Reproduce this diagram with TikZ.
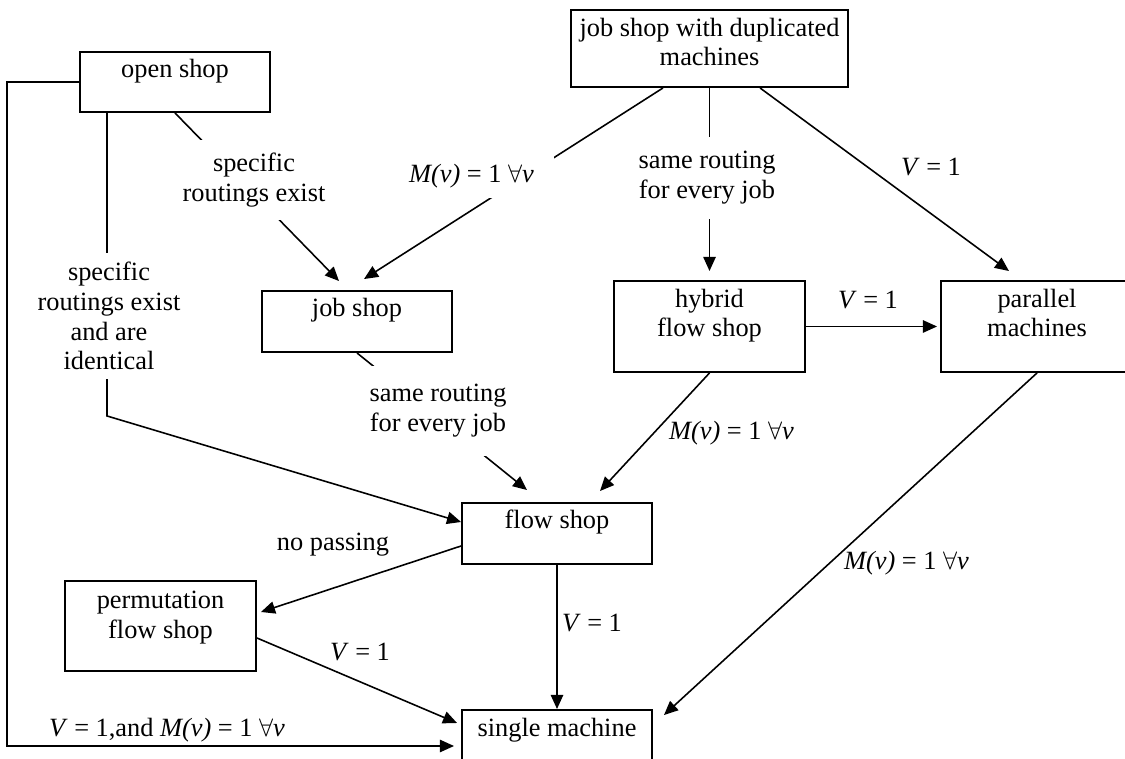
\documentclass[tikz,border=0pt]{standalone}
\usepackage{fontspec}
\setmainfont{Liberation Serif}
\usetikzlibrary{arrows.meta}

\begin{document}
\begin{tikzpicture}[font=\fontsize{15}{17}\selectfont, line width=0.9pt,
  >={Triangle[length=8pt,width=7pt]},
  shopbox/.style={draw, line width=1.1pt, align=center, inner xsep=2pt, inner ysep=0pt, text height=0.52cm},
  cond/.style={align=center, inner sep=1pt},
  gap/.style={fill=white}]
\useasboundingbox (0,0) rectangle (22.5,15.16);
\clip (0,0) rectangle (22.5,15.16);
\node[shopbox, minimum width=3.8cm, text depth=0.68cm] (open) at (3.5,13.52) {open shop};
\node[shopbox, minimum width=5.54cm, text height=1.12cm, text depth=0.42cm] (dup) at (14.19,14.19) {job shop with duplicated\\machines};
\node[shopbox, minimum width=3.8cm, text depth=0.70cm] (job) at (7.14,8.73) {job shop};
\node[shopbox, minimum width=3.82cm, text height=1.12cm, text depth=0.70cm] (hybrid) at (14.19,8.63) {hybrid\\flow shop};
\node[shopbox, minimum width=3.84cm, text height=1.12cm, text depth=0.70cm] (parallel) at (20.74,8.63) {parallel\\machines};
\node[shopbox, minimum width=3.8cm, text depth=0.70cm] (flow) at (11.14,4.49) {flow shop};
\node[shopbox, minimum width=3.82cm, text height=1.14cm, text depth=0.66cm] (perm) at (3.21,2.64) {permutation\\flow shop};
\node[shopbox, minimum width=3.8cm, text depth=0.70cm] (single) at (11.14,0.35) {single machine};
\draw[->] (open.south) -- ([xshift=-0.36cm,yshift=0.18cm]job.north);
\draw[->] (open.west) -- ++(-1.44,0) |- ([xshift=-0.14cm,yshift=-0.11cm]single.west);
\draw[->] ([xshift=-1.36cm]open.south) -- ++(0,-6.06) -- ([yshift=0.23cm]flow.west);
\draw[->] ([xshift=-0.93cm]dup.south) -- ([xshift=0.14cm,yshift=0.22cm]job.north);
\draw[->] (dup.south) -- ([yshift=0.18cm]hybrid.north);
\draw[->] ([xshift=1.01cm]dup.south) -- ([xshift=-0.56cm,yshift=0.18cm]parallel.north);
\draw[->] (hybrid.east) -- ([xshift=-0.06cm]parallel.west);
\draw[->] (job.south) -- ([xshift=-0.6cm,yshift=0.24cm]flow.north);
\draw[->] (hybrid.south) -- ([xshift=0.86cm,yshift=0.22cm]flow.north);
\draw[->] (parallel.south) -- ([xshift=0.22cm,yshift=-0.12cm]single.north east);
\draw[->] ([yshift=-0.25cm]flow.west) -- ([xshift=0.08cm,yshift=0.28cm]perm.east);
\draw[->] (flow.south) -- (single.north);
\draw[->] ([yshift=-0.24cm]perm.east) -- ([xshift=-0.08cm,yshift=0.35cm]single.west);
\node[cond, gap, minimum height=1.6cm] (routes) at (5.08,11.56) {specific\\routings exist};
\node[cond, gap, minimum height=0.9cm, inner xsep=0.4cm] (mvjob) at (9.43,11.64) {\textit{M(v)} = 1 $\forall$\textit{v}};
\node[cond, gap, minimum height=1.64cm] (samehyb) at (14.14,11.60) {same routing\\for every job};
\node[cond, gap, minimum height=1.8cm] (sameflow) at (8.76,6.94) {same routing\\for every job};
\node[cond, gap, minimum height=2.52cm] (ident) at (2.18,8.84) {specific\\routings exist\\and are\\identical};
\node[cond] (mvflow) at (14.63,6.50) {\textit{M(v)} = 1 $\forall$\textit{v}};
\node[cond] (mvsingle) at (18.13,3.90) {\textit{M(v)} = 1 $\forall$\textit{v}};
\node[cond] (vpar) at (18.62,11.82) {\textit{V} = 1};
\node[cond] (vhyb) at (17.36,9.16) {\textit{V} = 1};
\node[cond] (nopass) at (6.66,4.26) {no passing};
\node[cond] (vperm) at (7.20,2.12) {\textit{V} = 1};
\node[cond] (vflow) at (11.84,2.70) {\textit{V} = 1};
\node[cond] (vmv) at (3.34,0.56) {\textit{V} = 1,and \textit{M(v)} = 1 $\forall$\textit{v}};
\end{tikzpicture}
\end{document}
